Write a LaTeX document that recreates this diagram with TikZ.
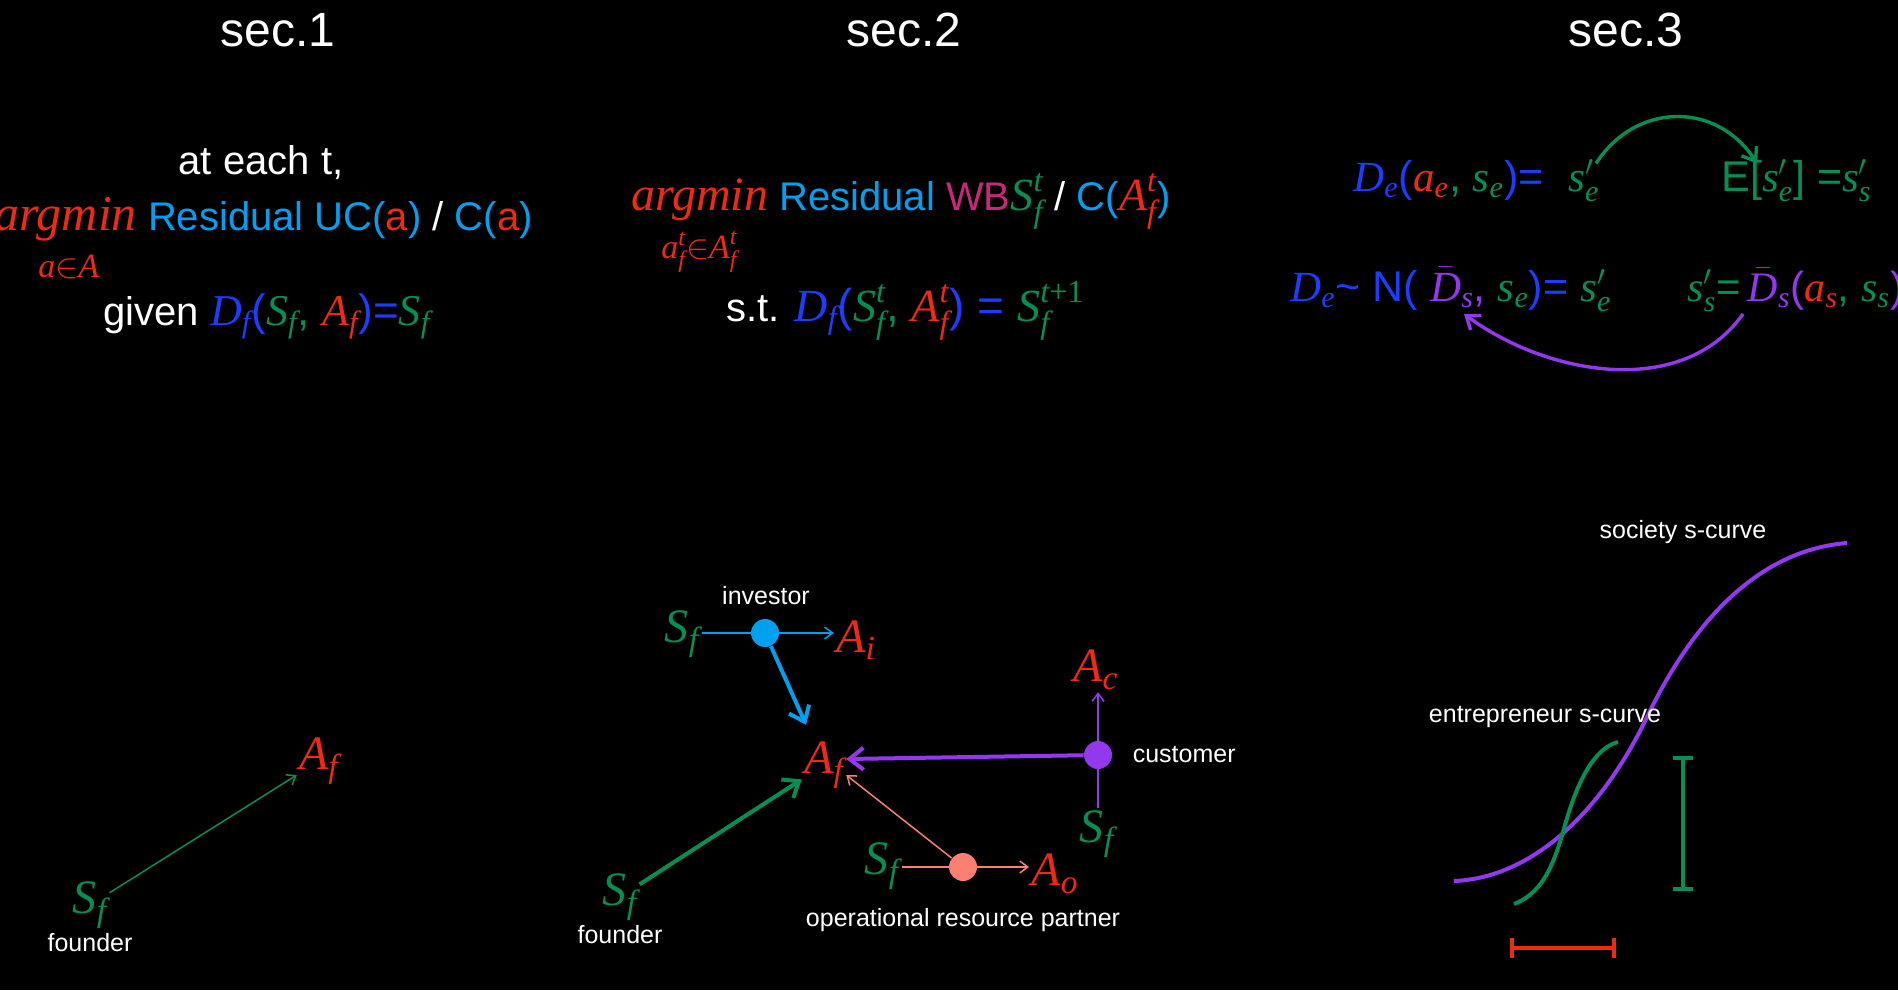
\documentclass[tikz,border=0pt]{standalone}
\usepackage{amsmath,amssymb}
\usepackage{fontspec}
\setmainfont{Liberation Sans}
\newfontfamily\tms{Liberation Serif}
\usetikzlibrary{
	positioning,
	arrows.meta
}
\definecolor{cgrn}{HTML}{068F52}
\definecolor{cred}{HTML}{EE2A14}
\definecolor{cblu}{HTML}{1C3CFF}
\definecolor{csky}{HTML}{00A0F0}
\definecolor{cmag}{HTML}{C8287A}
\definecolor{cpur}{HTML}{9438F0}
\definecolor{csal}{HTML}{FA8072}
\newcommand\vi[1]{\text{\tms\itshape #1}}
\newcommand\cv[3]{\textcolor{#1}{\vi{#2}_{\vi{#3}}}}
\newcommand\cvt[4]{\textcolor{#1}{\vi{#2}^{#4}_{\vi{#3}}}}
\newcommand\fsz[1]{\fontsize{#1}{#1}\selectfont}
\tikzset{
	every node/.style={
		text=white, inner sep=1pt
	},
	every edge/.append style={
		-{Straight Barb[length=4pt,width=6pt]}
	},
	sectitle/.style={font=\fsz{24}, anchor=base},
	body/.style={font=\fsz{20}, anchor=base west, inner sep=0pt},
	eqn/.style={font=\fsz{21.5}, anchor=base west},
	limit/.style={font=\fsz{17}, text=cred, anchor=base west, inner sep=0pt},
	lbl/.style={font=\fsz{12.5}},
	var/.style={font=\fsz{24}},
	dot/.style={circle, minimum size=14pt, inner sep=0pt},
	link/.style={line width=0.75pt},
	push/.style={line width=2pt, -{Straight Barb[length=7pt,width=11pt]}},
	loopback/.style={line width=1.7pt, -{Straight Barb[length=6pt,width=9pt]}},
	trend/.style={line width=2pt},
	ibar/.style={line width=2pt, {Bar[width=10pt]}-{Bar[width=10pt]}}
}

\begin{document}
\begin{tikzpicture}[x=0.5pt, y=-0.5pt]
	\useasboundingbox (0,0) rectangle (1898,990);
	\fill[black] (0,0) rectangle (1898,990);

	% sec.1
	\node[sectitle] (t1) at (278,47) {sec.1};
	\node[body, anchor=base] (each) at (261,174) {at each t,};
	\node[body] (obj1) at (-6,230) {\textcolor{cred}{\fsz{25}\tms\itshape argmin} \textcolor{csky}{Residual UC(}\textcolor{cred}{a}\textcolor{csky}{)} / \textcolor{csky}{C(}\textcolor{cred}{a}\textcolor{csky}{)}};
	\node[limit] (lim1) at (38,277) {$\vi{a}{\in}\vi{A}$};
	\node[body] (cond1) at (103,325) {given {\fsz{22}$\cv{cblu}{D}{f}\textcolor{cblu}{\text{(}}\cv{cgrn}{S}{f}\textcolor{cgrn}{\text{, }}\cv{cred}{A}{f}\textcolor{cblu}{\text{)=}}\cv{cgrn}{S}{f}$}};

	\draw
		node[var] (sf1) at (90,905) {$\cv{cgrn}{S}{f}$}
		node[lbl, below=0pt of sf1] (fd1) {founder}
		node[var] (af1) at (319,761) {$\cv{cred}{A}{f}$}

		(sf1) edge[cgrn, link] (af1)
	;

	% sec.2
	\node[sectitle] (t2) at (904,47) {sec.2};
	\node[body] (obj2) at (631,210) {\textcolor{cred}{\fsz{24}\tms\itshape argmin} \textcolor{csky}{Residual} \textcolor{cmag}{WB}{\fsz{23}$\cvt{cgrn}{S}{f}{\vi{t}}$} / \textcolor{csky}{C(}{\fsz{23}$\cvt{cred}{A}{f}{\vi{t}}$}\textcolor{csky}{)}};
	\node[limit] (lim2) at (661,258) {$\vi{a}^{\vi{t}}_{\vi{f}}{\in}\vi{A}^{\vi{t}}_{\vi{f}}$};
	\node[body] (cond2) at (726,321) {s.t. {\fsz{23}$\cv{cblu}{D}{f}\textcolor{cblu}{\text{(}}\cvt{cgrn}{S}{f}{\vi{t}}\textcolor{cgrn}{\text{, }}\cvt{cred}{A}{f}{\vi{t}}\textcolor{cblu}{\text{) = }}\cvt{cgrn}{S}{f}{\vi{t}\text{\tms +1}}$}};

	\draw
		node[dot, fill=csky]             (invd) at (765,633)  {}
		node[lbl]                        (inv)  at (766,596)  {investor}
		node[var]                        (sfi)  at (682,634)  {$\cv{cgrn}{S}{f}$}
		node[var]                        (ai)   at (856,640)  {$\cv{cred}{A}{i}$}
		node[var]                        (af2)  at (824,765)  {$\cv{cred}{A}{f}$}
		node[dot, fill=cpur]             (cusd) at (1098,755) {}
		node[lbl, right=9pt of cusd]     (cus)                {customer}
		node[var]                        (ac)   at (1096,670) {$\cv{cred}{A}{c}$}
		node[var]                        (sfc)  at (1097,834) {$\cv{cgrn}{S}{f}$}
		node[var]                        (sff)  at (620,897)  {$\cv{cgrn}{S}{f}$}
		node[lbl, below=0pt of sff]      (fd2)                {founder}
		node[dot, fill=csal]             (opd)  at (963,867)  {}
		node[var]                        (sfo)  at (882,866)  {$\cv{cgrn}{S}{f}$}
		node[var]                        (ao)   at (1055,874) {$\cv{cred}{A}{o}$}
		node[lbl]                        (orp)  at (963,920)  {operational resource partner}

		(sfi.east |- invd) edge[csky, link, -] (invd)
		(invd) edge[csky, link] (invd -| ai.west)
		(invd) edge[csky, push, shorten >=8pt] (af2)
		(cusd) edge[cpur, push] ([yshift=3pt]af2.east)
		(cusd) edge[cpur, link] (cusd |- ac.south)
		(cusd) edge[cpur, link, -] (cusd |- sfc.north)
		(sff) edge[cgrn, push] (af2)
		(sfo.east |- opd) edge[csal, link, -] (opd)
		(opd) edge[csal, link] (opd -| ao.west)
		(opd) edge[csal, link] ([yshift=-5pt]af2.east)
	;

	% sec.3
	\node[sectitle] (t3) at (1626,47) {sec.3};
	\node[eqn] (dyn) at (1351,191) {$\cv{cblu}{D}{e}\textcolor{cblu}{\text{(}}\cv{cred}{a}{e}\textcolor{cgrn}{\text{, }\vi{s}_{\vi{e}}}\textcolor{cblu}{\text{)=}}$};
	\node[eqn] (se1) at (1566,191) {$\textcolor{cgrn}{\vi{s}'_{\vi{e}}}$};
	\node[eqn] (ese) at (1719,191) {\textcolor{cgrn}{E[$\vi{s}'_{\vi{e}}$] =$\vi{s}'_{\vi{s}}$}};
	\node[eqn] (dist) at (1288,301) {$\cv{cblu}{D}{e}\textcolor{cblu}{\text{\textasciitilde{} N( }}\textcolor{cpur}{\bar{\vi{D}}_{\vi{s}}\text{, }}\cv{cgrn}{s}{e}\textcolor{cblu}{\text{)= }}\textcolor{cgrn}{\vi{s}'_{\vi{e}}}$};
	\node[eqn, font=\fsz{21}] (agg) at (1685,301) {$\textcolor{cgrn}{\vi{s}'_{\vi{s}}\text{=\,}}\textcolor{cpur}{\bar{\vi{D}}_{\vi{s}}\text{(}}\cv{cred}{a}{s}\textcolor{cgrn}{\text{, }\vi{s}_{\vi{s}}}\textcolor{cpur}{\text{)}}$};

	\draw[cgrn, loopback] ([xshift=-3pt,yshift=-3pt]se1.north east) .. controls +(40,-62) and +(-40,-62) .. ([xshift=19pt,yshift=-3pt]ese.north west);
	\draw[cpur, loopback] ([xshift=29pt]agg.south west) .. controls +(-60,85) and +(84,62) .. ([xshift=88pt]dist.south west);

	% s-curves
	\draw[cpur, trend] (1454,881) .. controls (1530,878) and (1600,815) .. (1647,717) .. controls (1694,619) and (1760,550) .. (1847,543);
	\draw[cgrn, trend] (1514,904) .. controls (1545,892) and (1555,860) .. (1565,825) .. controls (1578,779) and (1595,748) .. (1618,742);
	\node[lbl] (soc) at (1683,532) {society s-curve};
	\node[lbl] (ent) at (1545,717) {entrepreneur s-curve};
	\draw[cgrn, ibar] (1683,756) -- (1683,891);
	\draw[cred, ibar] (1510,948) -- (1616,948);
\end{tikzpicture}
\end{document}
